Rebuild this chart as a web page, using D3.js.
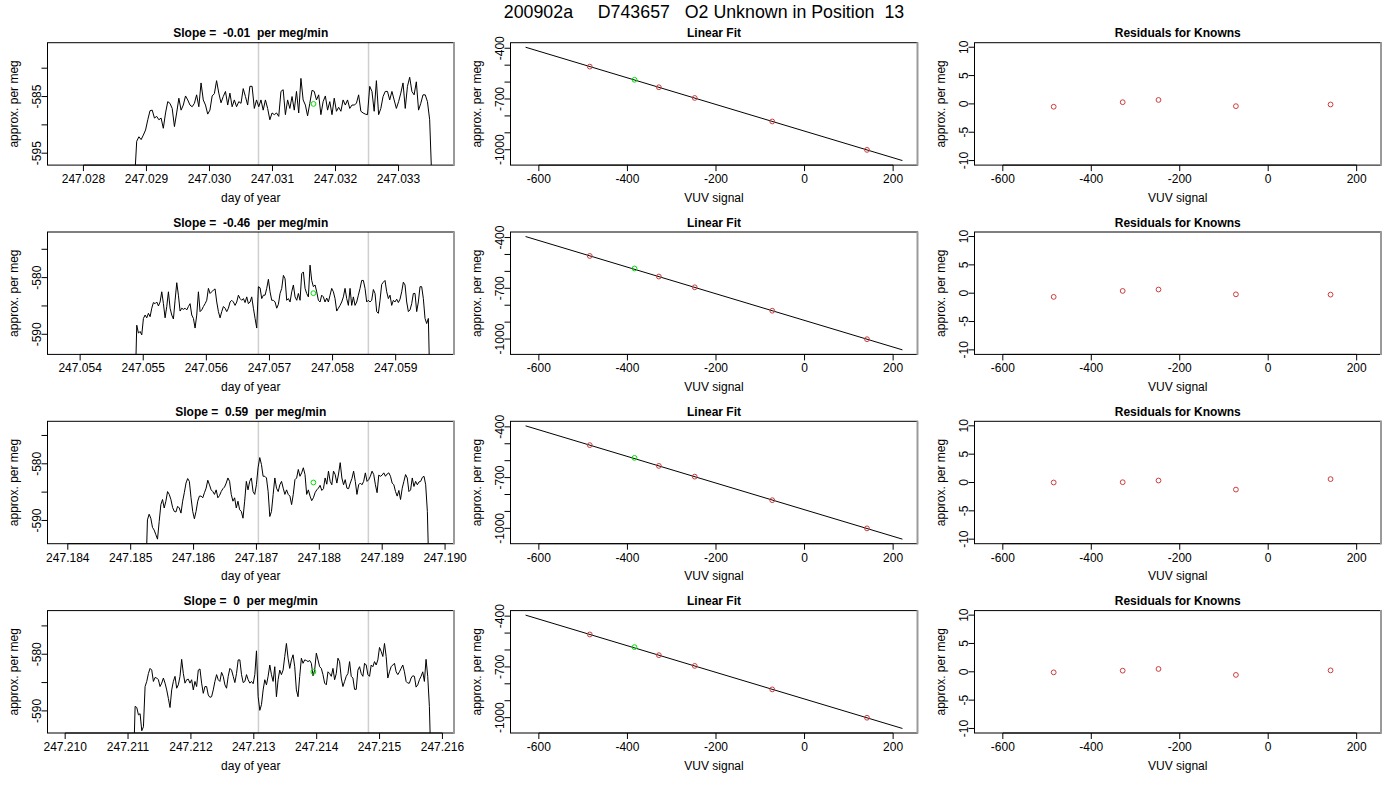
<!DOCTYPE html>
<html>
<head>
<meta charset="utf-8">
<script src="https://cdn.jsdelivr.net/npm/d3@7"></script>
<style>
    body { margin: 0; background: #fff; }
    svg text { font-family: "Liberation Sans", Arial, sans-serif; }
</style>
</head>
<body>
<svg id="chart" width="1400" height="800"></svg>
<script>

var mainTitle = "200902a     D743657   O2 Unknown in Position  13";
var slopeLabels = ["-0.01", "-0.46", "0.59", "0"];

// day-of-year window of each time panel
var dayDomains = [
    [247.02743, 247.03388],
    [247.053483, 247.059924],
    [247.183677, 247.190142],
    [247.209719, 247.216184]
];
// first / last sample time of each trace
var traceStart = [247.02881, 247.054871, 247.18524, 247.211086];
var traceEnd = [247.033529, 247.059544, 247.189745, 247.215819];
// cycle marker lines
var markerDays = [
    [247.030778, 247.032524],
    [247.056825, 247.058567],
    [247.187031, 247.18878],
    [247.213074, 247.214823]
];

var trace1 = [-600, -592.9, -592.1, -592.6, -591.8, -590.9, -589.1, -587.5, -587.4, -588.8, -588.5, -589.1, -588.8, -590.6, -587.9, -585.9, -586.2, -587.1, -590.3, -587.9, -585.3, -587.4, -586.5, -584.9, -585.6, -586.5, -586.8, -586.2, -584.7, -586.8, -582.6, -585.6, -586.5, -588.1, -587.4, -584.9, -584.5, -582.2, -584.4, -586.1, -585.0, -584.1, -586.5, -584.4, -586.8, -585.6, -586.8, -585.9, -586.2, -583.6, -585.0, -586.5, -583.2, -583.2, -587.1, -585.6, -586.8, -585.6, -587.4, -585.6, -587.1, -589.1, -587.9, -588.2, -587.9, -588.5, -584.1, -583.8, -588.2, -585.6, -587.1, -585.0, -587.4, -584.1, -587.9, -581.8, -585.6, -586.5, -588.4, -586.2, -583.9, -584.1, -585.6, -584.7, -588.2, -585.9, -584.9, -587.4, -585.9, -588.2, -585.3, -587.6, -586.9, -587.6, -585.6, -586.5, -585.6, -587.1, -586.5, -586.5, -586.2, -584.7, -587.6, -587.9, -588.1, -588.2, -583.2, -584.1, -587.6, -582.2, -588.2, -587.1, -585.0, -584.1, -584.1, -585.6, -584.1, -585.6, -587.1, -585.9, -584.4, -582.6, -587.1, -583.2, -581.6, -584.1, -584.7, -582.4, -587.4, -586.2, -584.7, -584.7, -585.9, -589.1, -600];

var trace2 = [-600, -588.4, -589.8, -589.5, -590.1, -587.2, -586.6, -587.1, -586.3, -586.9, -585.4, -584.4, -584.6, -584.3, -585.0, -584.3, -582.5, -584.6, -587.1, -585.1, -582.5, -585.4, -586.6, -587.3, -584.0, -580.9, -583.1, -585.9, -585.4, -585.6, -585.4, -585.7, -585.1, -584.6, -586.6, -587.2, -588.9, -586.6, -582.5, -586.0, -585.7, -585.1, -584.6, -584.0, -581.9, -582.8, -582.5, -582.2, -582.0, -584.3, -586.0, -587.1, -586.0, -585.1, -585.4, -586.0, -585.4, -584.3, -584.0, -584.3, -584.9, -584.3, -583.1, -583.7, -584.0, -583.7, -584.4, -583.4, -584.6, -584.3, -583.4, -585.4, -587.2, -588.9, -581.6, -581.8, -583.7, -583.1, -583.1, -581.9, -580.3, -582.5, -584.0, -584.0, -584.3, -585.4, -584.7, -582.8, -581.9, -579.6, -580.2, -584.0, -583.7, -584.3, -582.5, -581.3, -583.4, -584.0, -582.8, -584.0, -579.3, -579.0, -581.9, -582.8, -583.4, -577.8, -580.5, -581.6, -581.3, -582.5, -584.0, -584.3, -583.1, -583.4, -584.3, -583.6, -584.3, -583.1, -581.9, -582.5, -583.7, -585.9, -585.4, -584.9, -584.3, -583.4, -581.9, -583.7, -584.9, -581.9, -584.9, -583.4, -584.9, -584.3, -583.1, -581.9, -580.5, -580.5, -581.9, -584.3, -584.0, -584.3, -584.0, -582.1, -582.8, -586.0, -586.3, -584.0, -581.2, -580.8, -580.5, -582.5, -583.7, -583.1, -584.9, -584.0, -584.3, -583.8, -584.4, -583.8, -582.5, -580.8, -581.3, -584.3, -586.0, -585.7, -584.6, -582.8, -582.8, -586.0, -584.3, -581.6, -581.6, -583.7, -587.2, -588.1, -587.2, -600];

var trace3 = [-600, -589.9, -588.9, -589.6, -591.2, -591.7, -592.5, -593.3, -590.2, -587.2, -586.3, -587.8, -586.6, -584.9, -585.4, -586.3, -587.7, -588.4, -588.5, -587.5, -587.8, -588.7, -586.6, -585.1, -583.4, -582.6, -583.1, -586.0, -588.4, -589.7, -588.4, -586.6, -585.7, -585.7, -586.0, -585.1, -584.3, -582.9, -583.7, -584.6, -584.9, -585.4, -584.6, -586.0, -585.6, -584.9, -584.4, -584.1, -583.4, -582.5, -583.1, -585.4, -586.6, -586.0, -587.8, -586.6, -588.1, -588.4, -589.6, -586.6, -583.1, -584.6, -583.1, -582.5, -584.9, -585.4, -583.7, -580.7, -578.9, -580.1, -582.2, -582.2, -582.5, -584.9, -589.3, -588.4, -585.4, -582.5, -584.3, -584.9, -583.7, -583.1, -584.3, -585.4, -584.6, -585.4, -585.7, -587.2, -585.4, -582.8, -582.5, -581.0, -582.2, -581.6, -580.7, -581.9, -585.4, -584.6, -585.7, -586.5, -586.0, -585.1, -584.6, -584.3, -583.8, -584.7, -584.4, -582.5, -583.6, -581.3, -583.1, -583.7, -581.3, -581.9, -583.4, -581.8, -579.8, -582.5, -583.7, -582.8, -584.3, -584.4, -583.4, -582.6, -581.3, -583.1, -585.4, -583.7, -583.4, -583.7, -583.1, -581.6, -583.1, -582.8, -582.2, -581.3, -581.9, -583.7, -585.1, -582.0, -582.2, -582.0, -581.6, -582.2, -581.8, -581.6, -582.2, -583.4, -583.7, -584.9, -585.7, -584.7, -586.3, -584.3, -583.1, -581.9, -582.5, -584.9, -584.6, -582.5, -584.0, -583.1, -583.7, -583.2, -583.1, -582.4, -582.2, -583.7, -588.4, -600];

var trace4 = [-600, -589.2, -589.4, -590.7, -590.5, -593.5, -592.8, -585.7, -584.8, -583.4, -582.5, -582.8, -584.8, -584.1, -584.2, -584.5, -585.7, -585.1, -584.2, -585.1, -586.3, -587.8, -589.4, -586.3, -584.8, -583.9, -586.0, -585.4, -583.9, -580.9, -583.4, -585.1, -584.5, -584.4, -585.1, -584.5, -586.3, -584.8, -585.7, -582.8, -582.6, -585.1, -586.9, -585.7, -585.7, -587.2, -587.6, -587.5, -586.3, -584.8, -583.6, -584.5, -584.8, -583.2, -583.9, -585.4, -586.0, -583.9, -582.5, -582.8, -583.9, -585.0, -583.4, -581.0, -581.0, -583.6, -585.0, -584.8, -583.6, -584.5, -585.1, -584.8, -585.2, -583.6, -579.4, -587.5, -589.9, -588.9, -586.3, -584.5, -585.4, -583.9, -581.9, -583.6, -584.8, -582.2, -587.5, -584.5, -582.8, -583.6, -582.8, -580.4, -578.1, -580.7, -582.5, -581.0, -580.1, -582.2, -586.3, -587.5, -583.9, -580.7, -581.6, -581.0, -581.1, -581.3, -581.1, -581.6, -583.8, -582.8, -579.8, -581.0, -582.2, -582.5, -583.6, -585.1, -585.4, -583.1, -583.4, -583.9, -582.5, -584.5, -583.4, -580.7, -581.3, -584.2, -585.7, -584.8, -583.9, -583.4, -581.3, -583.9, -584.2, -586.2, -586.2, -582.8, -582.2, -583.4, -583.9, -581.6, -581.9, -583.6, -583.9, -581.9, -582.2, -581.3, -581.9, -581.0, -578.8, -579.5, -580.4, -578.1, -580.4, -584.2, -583.1, -582.2, -581.9, -581.6, -583.1, -583.6, -583.1, -582.5, -581.9, -583.1, -584.8, -585.1, -585.1, -584.2, -583.8, -583.9, -585.8, -585.4, -584.5, -583.9, -583.1, -584.8, -580.9, -583.9, -589.2, -600];

var traces = [trace1, trace2, trace3, trace4];

// unknown (green) point: time, mean value, VUV signal
var unknownDay = [247.031651, 247.057696, 247.187906, 247.213948];
var unknownValue = [-586.3, -582.75, -583.3, -583.1];
var unknownSignal = [-384, -384, -384, -384];

// knowns for the linear fit
var knownSignal = [-485, -329, -248, -73, 141];
var knownValue = [
    [-508.6, -630.6, -693.9, -832.8, -1000.9],
    [-508.8, -630.5, -694.0, -832.6, -1001.0],
    [-508.1, -630.9, -694.3, -833.6, -1000.2],
    [-508.2, -630.7, -694.1, -833.0, -1000.6]
];
var fitSignal = [-630, 221];
var fitValue = [-394, -1064];
var residuals = [
    [-0.5, 0.3, 0.7, -0.4, -0.1],
    [-0.65, 0.4, 0.65, -0.2, -0.25],
    [0.0, 0.05, 0.35, -1.25, 0.6],
    [-0.1, 0.2, 0.5, -0.55, 0.25]
];
var residualLimits = [-10, 10];

var svg = d3.select("#chart");

var cols = [{left: 47.5, right: 454}, {left: 510.5, right: 917.5}, {left: 974.5, right: 1381}];
var boxH = 122.4;
var knownColor = "#cd3d3d",
    unknownColor = "#00e000";

// plain hyphen for negative numbers, like R
var locale = d3.formatLocale({decimal: ".", thousands: ",", grouping: [3], currency: ["", ""], minus: "-"});
var fmtNum = locale.format("d"),
    fmtDay = locale.format(".3f");

var measure = document.createElement("canvas").getContext("2d");
measure.font = "12px 'Liberation Sans', Arial";
var mGap = measure.measureText("m").width;

// R adds 4% to each side of the data range
function pad(ext) {
    var d = (ext[1] - ext[0]) * 0.04;
    return [ext[0] - d, ext[1] + d];
}

// keep a label only if it does not run into the previous kept one
function keepLabels(pos, labels) {
    var keep = [], lastPos = null, lastW = 0;
    labels.forEach(function (s, i) {
        var w = measure.measureText(s).width;
        if (lastPos === null || Math.abs(pos[i] - lastPos) >= w / 2 + lastW / 2 + mGap) {
            keep.push(i);
            lastPos = pos[i];
            lastW = w;
        }
    });
    return keep;
}

function makePanel(ri, ci, title, xLab) {
    var p = {
        top: 42.7 + 189.3 * ri,
        left: cols[ci].left,
        right: cols[ci].right
    };
    p.bottom = p.top + boxH;
    p.g = svg.append("g");
    var id = "clip" + ri + "_" + ci;
    svg.append("clipPath").attr("id", id).append("rect")
        .attr("x", p.left).attr("y", p.top)
        .attr("width", p.right - p.left).attr("height", boxH);
    p.clip = "url(#" + id + ")";

    p.g.append("text")
        .attr("x", (p.left + p.right) / 2)
        .attr("y", p.top - 5.5)
        .attr("text-anchor", "middle")
        .style("font-size", "12px")
        .style("font-weight", "bold")
        .attr("xml:space", "preserve")
        .text(title);

    p.g.append("text")
        .attr("x", (p.left + p.right) / 2)
        .attr("y", p.bottom + 36.5)
        .attr("text-anchor", "middle")
        .style("font-size", "12px")
        .text(xLab);

    p.g.append("text")
        .attr("transform", "translate(" + (p.left - 30) + "," + ((p.top + p.bottom) / 2) + ") rotate(-90)")
        .attr("text-anchor", "middle")
        .style("font-size", "12px")
        .text("approx. per meg");
    return p;
}

function drawBox(p) {
    p.g.append("rect")
        .attr("x", p.left).attr("y", p.top)
        .attr("width", p.right - p.left).attr("height", boxH)
        .attr("fill", "none").attr("stroke", "#000").attr("stroke-width", 1);
    p.g.append("line")
        .attr("x1", p.right).attr("x2", p.right)
        .attr("y1", p.top - 0.5).attr("y2", p.bottom + 0.5)
        .attr("stroke", "#9a9a9a").attr("stroke-width", 2);
}

function xAxis(p, x, ticks, fmt) {
    var ax = p.g.append("g");
    ax.append("line")
        .attr("x1", x(ticks[0])).attr("x2", x(ticks[ticks.length - 1]))
        .attr("y1", p.bottom).attr("y2", p.bottom)
        .attr("stroke", "#000");
    ax.selectAll(".tk").data(ticks).enter().append("line")
        .attr("x1", function (d) { return x(d); })
        .attr("x2", function (d) { return x(d); })
        .attr("y1", p.bottom).attr("y2", p.bottom + 6)
        .attr("stroke", "#000");
    var labels = ticks.map(fmt);
    var keep = keepLabels(ticks.map(x), labels);
    keep.forEach(function (i) {
        ax.append("text")
            .attr("x", x(ticks[i]))
            .attr("y", p.bottom + 18)
            .attr("text-anchor", "middle")
            .style("font-size", "12px")
            .text(labels[i]);
    });
}

function yAxis(p, y, ticks, fmt) {
    var ax = p.g.append("g");
    ax.append("line")
        .attr("x1", p.left).attr("x2", p.left)
        .attr("y1", y(ticks[0])).attr("y2", y(ticks[ticks.length - 1]))
        .attr("stroke", "#000");
    ax.selectAll(".tk").data(ticks).enter().append("line")
        .attr("x1", p.left - 6).attr("x2", p.left)
        .attr("y1", function (d) { return y(d); })
        .attr("y2", function (d) { return y(d); })
        .attr("stroke", "#000");
    var labels = ticks.map(fmt);
    var keep = keepLabels(ticks.map(y), labels);
    keep.forEach(function (i) {
        ax.append("text")
            .attr("transform", "translate(" + (p.left - 7) + "," + y(ticks[i]) + ") rotate(-90)")
            .attr("text-anchor", "middle")
            .style("font-size", "12px")
            .text(labels[i]);
    });
}

function circles(p, xs, ys, x, y, color) {
    p.g.append("g").selectAll("circle")
        .data(xs).enter().append("circle")
        .attr("cx", function (d) { return x(d); })
        .attr("cy", function (d, i) { return y(ys[i]); })
        .attr("r", 2.4)
        .attr("fill", "none")
        .attr("stroke", color)
        .attr("stroke-width", 1);
}

// main title
svg.append("text")
    .attr("x", 704)
    .attr("y", 18.3)
    .attr("text-anchor", "middle")
    .attr("xml:space", "preserve")
    .style("font-size", "17.8px")
    .text(mainTitle);

traces.forEach(function (vals, ri) {

    // --- time trace ---
    var p = makePanel(ri, 0, "Slope =  " + slopeLabels[ri] + "  per meg/min", "day of year");
    var x = d3.scaleLinear().domain(dayDomains[ri]).range([p.left, p.right]);
    var y = d3.scaleLinear()
        .domain(pad([unknownValue[ri] - 10, unknownValue[ri] + 10]))
        .range([p.bottom, p.top]);
    var times = d3.scaleLinear().domain([0, vals.length - 1]).range([traceStart[ri], traceEnd[ri]]);

    p.g.selectAll(".marker").data(markerDays[ri]).enter().append("line")
        .attr("x1", function (d) { return x(d); })
        .attr("x2", function (d) { return x(d); })
        .attr("y1", p.top).attr("y2", p.bottom)
        .attr("stroke", "#cfcfcf").attr("stroke-width", 1.5);

    var line = d3.line()
        .x(function (d, i) { return x(times(i)); })
        .y(function (d) { return y(d); });
    p.g.append("path")
        .datum(vals)
        .attr("clip-path", p.clip)
        .attr("d", line)
        .attr("fill", "none")
        .attr("stroke", "#000")
        .attr("stroke-width", 1);

    circles(p, [unknownDay[ri]], [unknownValue[ri]], x, y, unknownColor);
    xAxis(p, x, x.ticks(6), fmtDay);
    yAxis(p, y, y.ticks(4), fmtNum);
    drawBox(p);

    // --- linear fit ---
    var q = makePanel(ri, 1, "Linear Fit", "VUV signal");
    var fx = d3.scaleLinear().domain(pad(d3.extent(fitSignal))).range([q.left, q.right]);
    var fy = d3.scaleLinear().domain(pad(d3.extent(fitValue))).range([q.bottom, q.top]);
    q.g.append("line")
        .attr("x1", fx(fitSignal[0])).attr("y1", fy(fitValue[0]))
        .attr("x2", fx(fitSignal[1])).attr("y2", fy(fitValue[1]))
        .attr("stroke", "#000").attr("stroke-width", 1);
    circles(q, knownSignal, knownValue[ri], fx, fy, knownColor);
    circles(q, [unknownSignal[ri]], [unknownValue[ri]], fx, fy, unknownColor);
    xAxis(q, fx, fx.ticks(5), fmtNum);
    yAxis(q, fy, fy.ticks(7), fmtNum);
    drawBox(q);

    // --- residuals ---
    var r = makePanel(ri, 2, "Residuals for Knowns", "VUV signal");
    var rx = d3.scaleLinear().domain(pad(d3.extent(fitSignal))).range([r.left, r.right]);
    var ry = d3.scaleLinear().domain(pad(residualLimits)).range([r.bottom, r.top]);
    circles(r, knownSignal, residuals[ri], rx, ry, knownColor);
    xAxis(r, rx, rx.ticks(5), fmtNum);
    yAxis(r, ry, ry.ticks(4), fmtNum);
    drawBox(r);
});

</script>
</body>
</html>
